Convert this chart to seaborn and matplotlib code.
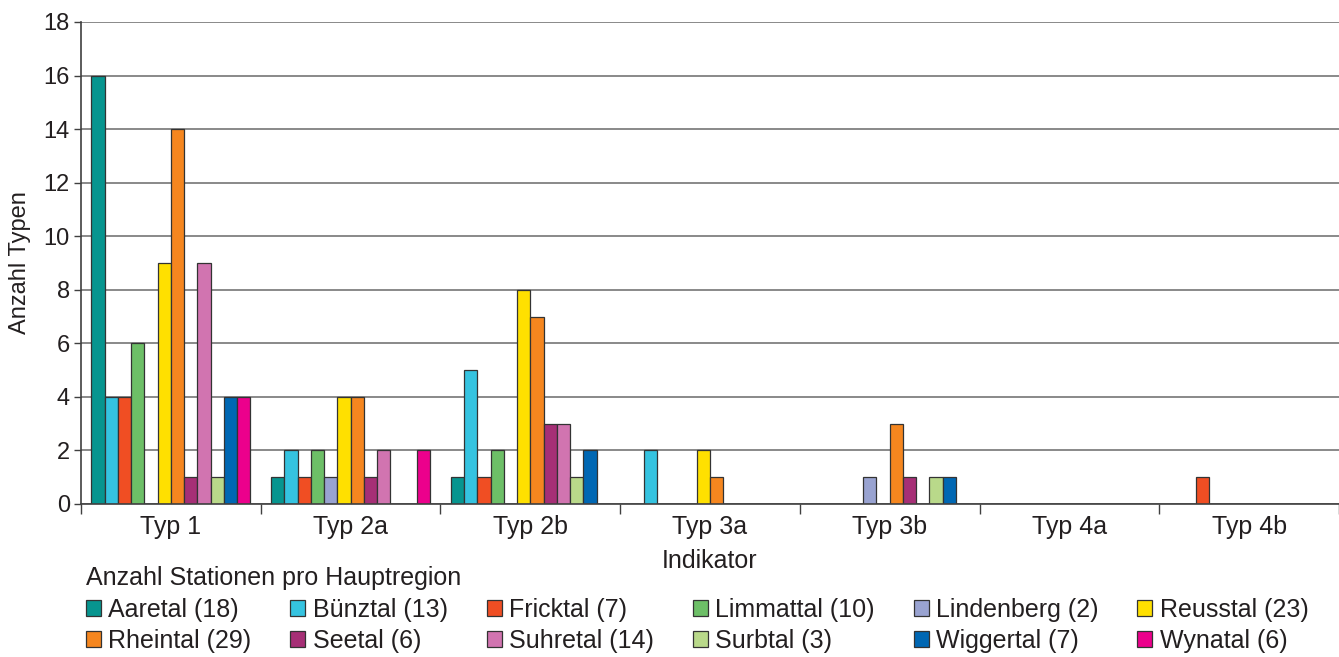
import matplotlib
matplotlib.use("Agg")
import matplotlib.pyplot as plt
import matplotlib.patches as mpatches
import seaborn as sns
import pandas as pd

categories = ["Typ 1", "Typ 2a", "Typ 2b", "Typ 3a", "Typ 3b", "Typ 4a", "Typ 4b"]
regions = ["Aaretal (18)", "Bünztal (13)", "Fricktal (7)", "Limmattal (10)",
           "Lindenberg (2)", "Reusstal (23)", "Rheintal (29)", "Seetal (6)",
           "Suhretal (14)", "Surbtal (3)", "Wiggertal (7)", "Wynatal (6)"]
colors = ["#07958F", "#35C3E0", "#F04E23", "#6DBF67", "#99A3D1", "#FFE000",
          "#F5861F", "#A62F76", "#D174B0", "#B9D98A", "#0067B3", "#EC008C"]

aaretal    = [16, 1, 1, 0, 0, 0, 0]
buenztal   = [4, 2, 5, 2, 0, 0, 0]
fricktal   = [4, 1, 1, 0, 0, 0, 1]
limmattal  = [6, 2, 2, 0, 0, 0, 0]
lindenberg = [0, 1, 0, 0, 1, 0, 0]
reusstal   = [9, 4, 8, 2, 0, 0, 0]
rheintal   = [14, 4, 7, 1, 3, 0, 0]
seetal     = [1, 1, 3, 0, 1, 0, 0]
suhretal   = [9, 2, 3, 0, 0, 0, 0]
surbtal    = [1, 0, 1, 0, 1, 0, 0]
wiggertal  = [4, 0, 2, 0, 1, 0, 0]
wynatal    = [4, 2, 0, 0, 0, 0, 0]

series = [aaretal, buenztal, fricktal, limmattal, lindenberg, reusstal,
          rheintal, seetal, suhretal, surbtal, wiggertal, wynatal]

rows = []
for reg, vals in zip(regions, series):
    for cat, v in zip(categories, vals):
        rows.append({"Indikator": cat, "Anzahl": v, "Region": reg})
df = pd.DataFrame(rows)

sns.set_theme(style="white")
plt.rcParams["font.family"] = ["Liberation Sans", "DejaVu Sans"]
TXT = "#231f20"

fig = plt.figure(figsize=(13.39, 6.57), dpi=100)
ax = fig.add_axes([81/1339, 1-504/657, 1-81/1339, (504-22)/657])

sns.barplot(data=df, x="Indikator", y="Anzahl", hue="Region", order=categories,
            hue_order=regions, palette=colors, width=0.885, edgecolor="#333333",
            linewidth=0.9, saturation=1, legend=False, ax=ax, errorbar=None)

ax.set_ylim(0, 18)
ax.set_xlim(-0.5, 6.5)
ax.set_yticks(range(0, 19, 2))
ax.yaxis.grid(True, color="#808080", linewidth=1.3)
ax.set_axisbelow(True)
for s in ["top", "right"]:
    ax.spines[s].set_visible(False)
for s in ["left", "bottom"]:
    ax.spines[s].set_color("#404040")
    ax.spines[s].set_linewidth(1.2)

ax.tick_params(axis="y", which="major", length=5, width=1, color="#404040",
               direction="out", labelsize=17, pad=3, labelcolor=TXT, left=True)
ax.tick_params(axis="x", which="major", length=0, labelsize=18, pad=8, labelcolor=TXT)
ax.set_xticks([i + 0.5 for i in range(-1, 7)], minor=True)
ax.tick_params(axis="x", which="minor", length=7, width=1, color="#404040",
               direction="out", bottom=True)

ax.set_xlabel("Indikator", fontsize=18, color=TXT, labelpad=7)
ax.set_ylabel("Anzahl Typen", fontsize=17, color=TXT, labelpad=9)

handles = [mpatches.Patch(facecolor=c, edgecolor="#333333", linewidth=0.9) for c in colors]
order = []
for c in range(6):
    order += [c, c + 6]
leg = fig.legend([handles[i] for i in order], [regions[i] for i in order],
                 loc="upper left", bbox_to_anchor=(86/1339, 1-566/657), ncol=6,
                 frameon=False, fontsize=18, title="Anzahl Stationen pro Hauptregion",
                 title_fontsize=18, alignment="left", handlelength=0.6,
                 handleheight=0.6, handletextpad=0.3, columnspacing=1.55,
                 labelspacing=0.3, borderaxespad=0, borderpad=0.0)
for t in leg.get_texts():
    t.set_color(TXT)
leg.get_title().set_color(TXT)

fig.savefig("out.png", dpi=100)
